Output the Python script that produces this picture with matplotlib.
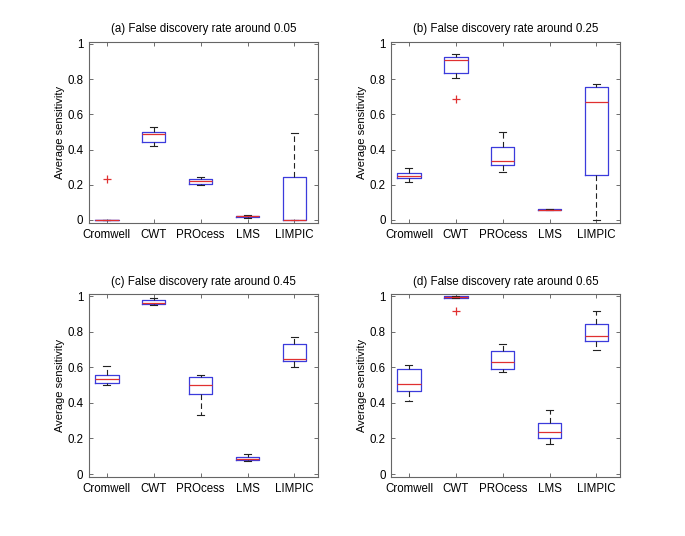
import matplotlib.pyplot as plt

plt.rcParams['font.family'] = ['Liberation Sans', 'DejaVu Sans']

methods = ['Cromwell', 'CWT', 'PROcess', 'LMS', 'LIMPIC']
titles = ['(a) False discovery rate around 0.05',
          '(b) False discovery rate around 0.25',
          '(c) False discovery rate around 0.45',
          '(d) False discovery rate around 0.65']

# per panel, per method: whislo, q1, median, q3, whishi
fdr05 = [[0.0, 0.0, 0.0, 0.0, 0.0],
         [0.42, 0.445, 0.49, 0.50, 0.53],
         [0.20, 0.205, 0.22, 0.23, 0.245],
         [0.012, 0.015, 0.02, 0.025, 0.027],
         [0.0, 0.0, 0.0, 0.245, 0.495]]
fdr25 = [[0.215, 0.24, 0.25, 0.265, 0.295],
         [0.805, 0.835, 0.91, 0.925, 0.94],
         [0.27, 0.31, 0.335, 0.415, 0.50],
         [0.055, 0.055, 0.058, 0.062, 0.062],
         [0.0, 0.255, 0.67, 0.755, 0.775]]
fdr45 = [[0.50, 0.515, 0.535, 0.555, 0.61],
         [0.95, 0.955, 0.965, 0.98, 0.99],
         [0.335, 0.45, 0.50, 0.545, 0.56],
         [0.075, 0.08, 0.085, 0.095, 0.115],
         [0.60, 0.635, 0.65, 0.73, 0.77]]
fdr65 = [[0.41, 0.47, 0.505, 0.59, 0.615],
         [0.99, 0.993, 0.997, 1.0, 1.0],
         [0.575, 0.59, 0.63, 0.69, 0.73],
         [0.17, 0.205, 0.235, 0.29, 0.36],
         [0.70, 0.75, 0.775, 0.845, 0.915]]

outliers05 = [[0.23], [], [], [], []]
outliers25 = [[], [0.69], [], [], []]
outliers45 = [[], [], [], [], []]
outliers65 = [[], [0.92], [], [], []]

panels = [(fdr05, outliers05), (fdr25, outliers25),
          (fdr45, outliers45), (fdr65, outliers65)]

positions = [[0.130, 0.584, 0.334, 0.338],
             [0.571, 0.584, 0.334, 0.338],
             [0.130, 0.110, 0.334, 0.341],
             [0.571, 0.110, 0.334, 0.341]]

fig = plt.figure(figsize=(6.85, 5.36), dpi=100)

for k, ((stats, outs), pos) in enumerate(zip(panels, positions)):
    ax = fig.add_axes(pos)
    bstats = []
    for name, s, o in zip(methods, stats, outs):
        bstats.append({'label': name, 'whislo': s[0], 'q1': s[1],
                       'med': s[2], 'q3': s[3], 'whishi': s[4], 'fliers': o})
    ax.bxp(bstats, positions=range(1, 6), widths=0.5, capwidths=0.15,
           boxprops=dict(color='#3b3bdc', linewidth=0.9),
           medianprops=dict(color='#e03030', linewidth=0.9),
           whiskerprops=dict(color='#222222', linewidth=0.8,
                             linestyle=(0, (5, 3))),
           capprops=dict(color='#222222', linewidth=0.8),
           flierprops=dict(marker='+', markeredgecolor='#e03030',
                           markersize=6, markeredgewidth=0.9))
    ax.set_xlim(0.62, 5.5)
    ax.set_ylim(-0.017, 1.012)
    ax.set_yticks([0, 0.2, 0.4, 0.6, 0.8, 1.0])
    ax.set_yticklabels(['0', '0.2', '0.4', '0.6', '0.8', '1'])
    ax.tick_params(direction='in', length=3, width=0.6, color='#555555',
                   top=True, right=True, labelsize=8.3, pad=4)
    for sp in ax.spines.values():
        sp.set_color('#666666')
        sp.set_linewidth(0.8)
    ax.set_title(titles[k], fontsize=8.3, pad=7)
    ax.set_ylabel('Average sensitivity', fontsize=8, labelpad=2)

fig.savefig('out.png', dpi=100)
